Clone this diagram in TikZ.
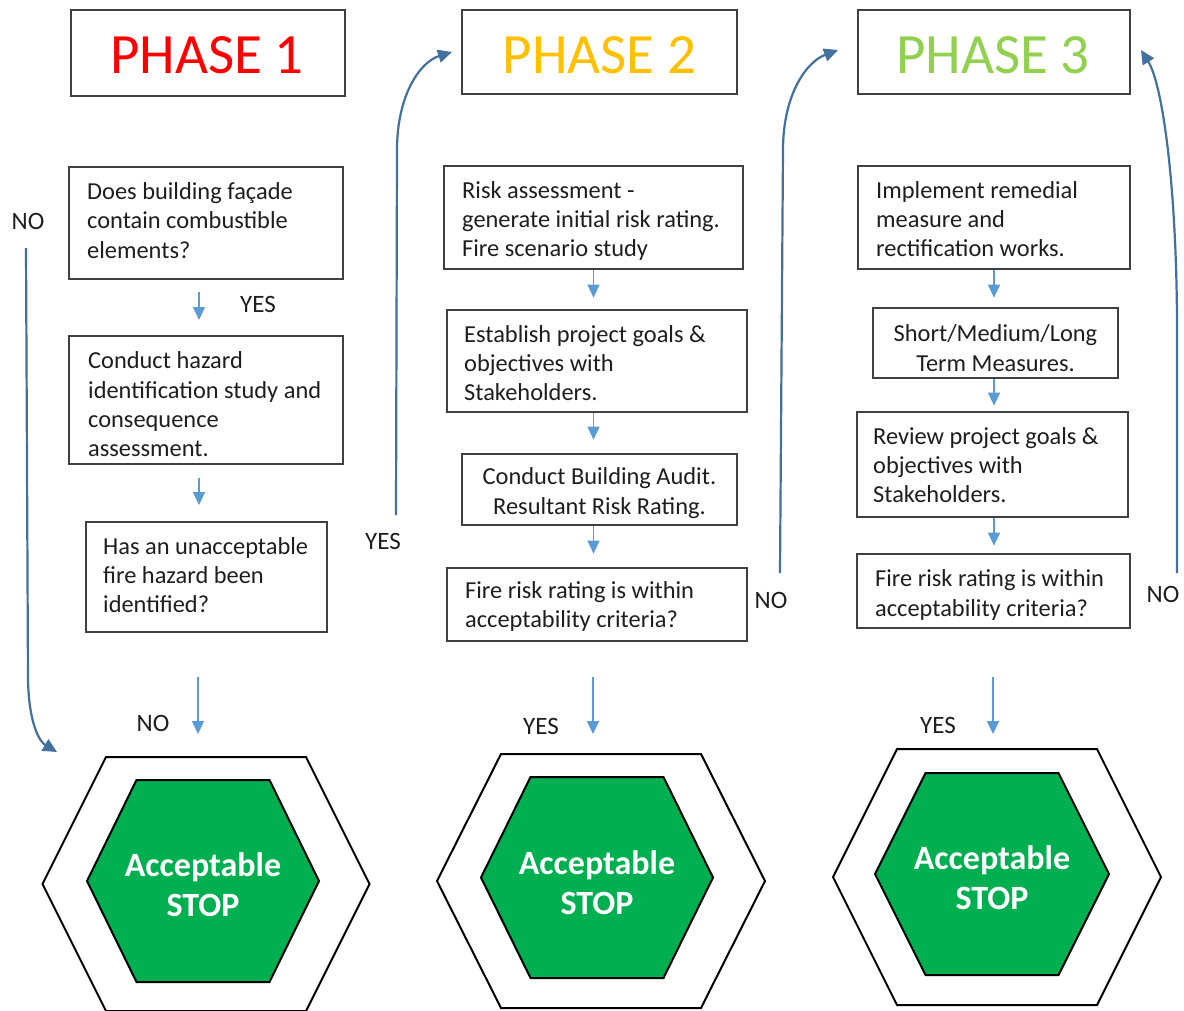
\documentclass[tikz,border=0pt]{standalone}
\usepackage{fontspec}
\setmainfont{Carlito}
\usetikzlibrary{arrows.meta,calc}
\definecolor{txt}{HTML}{1E1E1E}
\definecolor{boxline}{HTML}{404040}
\definecolor{sblue}{HTML}{5B9BD5}
\definecolor{cblue}{HTML}{41719C}
\definecolor{okgreen}{HTML}{00B050}
\definecolor{phaseone}{HTML}{FF0000}
\definecolor{phasetwo}{HTML}{FFC000}
\definecolor{phasethree}{HTML}{92D050}
\newcommand\hexshape[6]{%
  \path[#6] ({#1-#3},#2) -- ({#1-#4},{#2-#5}) -- ({#1+#4},{#2-#5}) -- ({#1+#3},#2)
    -- ({#1+#4},{#2+#5}) -- ({#1-#4},{#2+#5}) -- cycle;}
\begin{document}
\begin{tikzpicture}[x=1pt,y=-1pt,
  box/.style={draw=boxline, line width=1.3pt, inner sep=0pt, fill=white},
  phasetext/.style={font=\fontsize{57}{60}\selectfont, inner sep=0pt},
  body/.style={font=\fontsize{24.4}{29.3}\selectfont, text=txt, inner sep=0pt, align=left, anchor=west},
  cbody/.style={font=\fontsize{24.4}{29.3}\selectfont, text=txt, inner sep=0pt, align=center},
  lbl/.style={font=\fontsize{25}{30}\selectfont, text=txt, inner sep=0pt},
  sarrow/.style={draw=sblue, line width=1.4pt, -{Triangle[length=13pt,width=12pt]}},
  carrow/.style={draw=cblue, line width=2.2pt, -{Triangle[length=14pt,width=13pt]}},
  hexout/.style={draw=black, line width=2pt, fill=white},
  hexin/.style={draw=black, line width=2pt, fill=okgreen},
  stoptext/.style={font=\bfseries\fontsize{34}{40}\selectfont, text=white, align=center, inner sep=0pt}
]
\useasboundingbox[fill=white] (0,0) rectangle (1184,1010);

% ---------- phase headers
\node[box, minimum width=274pt, minimum height=86pt] (p1) at (208,53) {};
\node[phasetext, text=phaseone] (p1t) at (207,55) {PHASE 1};
\node[box, minimum width=275pt, minimum height=84pt] (p2) at (599.5,52) {};
\node[phasetext, text=phasetwo] (p2t) at (599.5,55) {PHASE 2};
\node[box, minimum width=272pt, minimum height=84pt] (p3) at (994,52) {};
\node[phasetext, text=phasethree] (p3t) at (993,55) {PHASE 3};

% ---------- phase 1 column
\node[box, minimum width=274pt, minimum height=112pt] (a1) at (206,223) {};
\node[body] (a1t) at (87,220.5) {Does building façade\\contain combustible\\elements?};
\node[box, minimum width=274pt, minimum height=128pt] (a2) at (206,400) {};
\node[body] (a2t) at (88,404.5) {Conduct hazard\\identification study and\\consequence\\assessment.};
\node[box, minimum width=241pt, minimum height=110pt] (a3) at (206.5,577) {};
\node[body] (a3t) at (103,575) {Has an unacceptable\\fire hazard been\\identified?};

% ---------- phase 2 column
\node[box, minimum width=299pt, minimum height=103pt] (b1) at (593.5,217.5) {};
\node[body] (b1t) at (462,221) {Risk assessment -\\generate initial risk rating.\\Fire scenario study};
\node[box, minimum width=300pt, minimum height=102pt] (b2) at (597,361) {};
\node[body] (b2t) at (464,363) {Establish project goals \&\\objectives with\\Stakeholders.};
\node[box, minimum width=275pt, minimum height=71pt] (b3) at (599.5,489.5) {};
\node[cbody] (b3t) at (599.5,493) {Conduct Building Audit.\\Resultant Risk Rating.};
\node[box, minimum width=300pt, minimum height=73pt] (b4) at (597,604.5) {};
\node[body] (b4t) at (465,606.5) {Fire risk rating is within\\acceptability criteria?};

% ---------- phase 3 column
\node[box, minimum width=272pt, minimum height=103pt] (c1) at (994,217.5) {};
\node[body] (c1t) at (876,219) {Implement remedial\\measure and\\rectification works.};
\node[box, minimum width=245pt, minimum height=70pt] (c2) at (995.5,343) {};
\node[cbody] (c2t) at (995.5,348) {Short/Medium/Long\\Term Measures.};
\node[box, minimum width=271pt, minimum height=105pt] (c3) at (992.5,464.5) {};
\node[body] (c3t) at (873,465) {Review project goals \&\\objectives with\\Stakeholders.};
\node[box, minimum width=273pt, minimum height=74pt] (c4) at (993.5,591) {};
\node[body] (c4t) at (875,595) {Fire risk rating is within\\acceptability criteria?};

% ---------- stop hexagons
\hexshape{206}{884}{163.5}{100}{127}{hexout}
\hexshape{203}{881}{116}{66.5}{101}{hexin}
\node[stoptext] (s1) at (203,885) {Acceptable\\STOP};
\hexshape{601}{881}{164}{100}{127}{hexout}
\hexshape{597}{877.5}{116}{66.5}{100.5}{hexin}
\node[stoptext] (s2) at (597,882.5) {Acceptable\\STOP};
\hexshape{997}{877}{164}{100}{128}{hexout}
\hexshape{992}{874}{117}{66.5}{101}{hexin}
\node[stoptext] (s3) at (992,878) {Acceptable\\STOP};

% ---------- short arrows
\coordinate (a1o) at (199,292); \coordinate (a1i) at (199,320);
\coordinate (a2o) at (199,478); \coordinate (a2i) at (199,505);
\coordinate (a3o) at (198,677); \coordinate (a3i) at (198,734);
\draw[sarrow] (a1o) -- (a1i);
\draw[sarrow] (a2o) -- (a2i);
\draw[sarrow] (a3o) -- (a3i);

\draw[sarrow] (b1.south) -- ++(0,28);
\draw[sarrow] (b2.south -| b1.south) -- ++(0,27);
\draw[sarrow] (b3.south -| b1.south) -- ++(0,28);
\coordinate (b4o) at (593,677); \coordinate (b4i) at (593,734);
\draw[sarrow] (b4o) -- (b4i);

\draw[sarrow] (c1.south) -- ++(0,28);
\draw[sarrow] (c2.south -| c1.south) -- ++(0,27);
\draw[sarrow] (c3.south -| c1.south) -- ++(0,28);
\coordinate (c4o) at (993,677); \coordinate (c4i) at (993,734);
\draw[sarrow] (c4o) -- (c4i);

% ---------- curved arrows
\coordinate (n1o) at (26,248); \coordinate (n1i) at (57,752);
\draw[carrow] (n1o) -- (28,680) .. controls (29,725) and (40,742) .. (n1i);
\coordinate (y1o) at (396,515); \coordinate (y1i) at (452,52);
\draw[carrow] (y1o) -- (397,150) .. controls (397,95) and (420,62) .. (y1i);
\coordinate (n2o) at (780,573); \coordinate (n2i) at (838,50);
\draw[carrow] (n2o) -- (783,150) .. controls (783,95) and (806,62) .. (n2i);
\coordinate (n3o) at (1177,573); \coordinate (n3i) at (1141,50);
\draw[carrow] (n3o) -- (1177,330) .. controls (1177,190) and (1163,85) .. (n3i);

% ---------- labels
\node[lbl] (l1) at (28,221) {NO};
\node[lbl] (l2) at (258,304) {YES};
\node[lbl] (l3) at (153,723) {NO};
\node[lbl] (l4) at (383,541) {YES};
\node[lbl] (l5) at (541,726) {YES};
\node[lbl] (l6) at (771,600) {NO};
\node[lbl] (l7) at (938,725) {YES};
\node[lbl] (l8) at (1163,594) {NO};
\end{tikzpicture}
\end{document}
